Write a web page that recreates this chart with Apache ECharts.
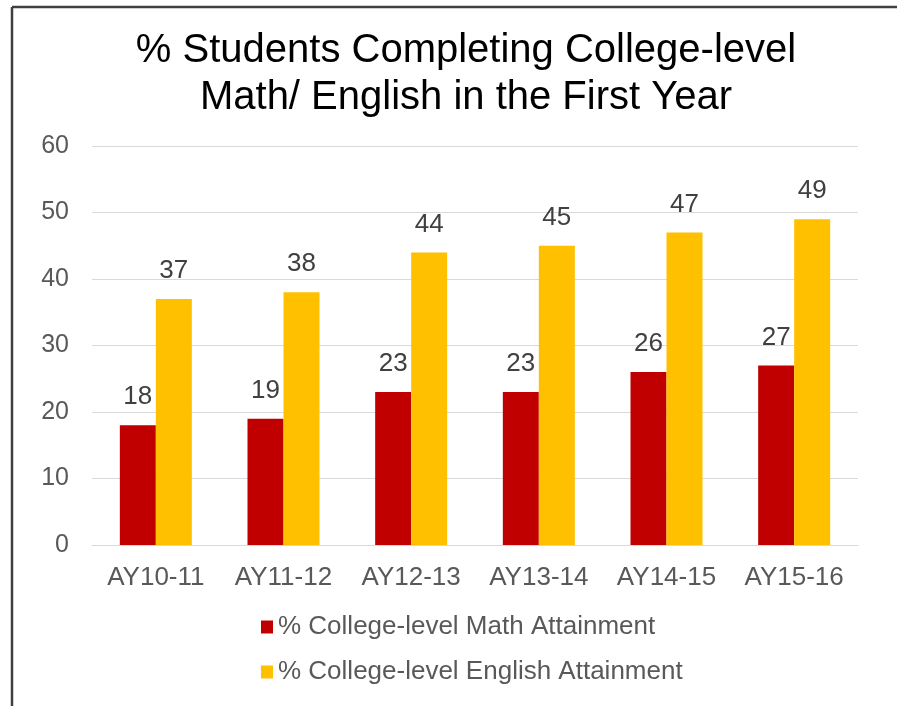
<!DOCTYPE html>
<html>
<head>
<meta charset="utf-8">
<style>
  html, body { margin: 0; padding: 0; background: #fff; }
  #chart { width: 897px; height: 706px; }
</style>
<script src="https://cdn.jsdelivr.net/npm/echarts@6/dist/echarts.min.js"></script>
</head>
<body>
<div id="chart"></div>
<script>
var years = ['AY10-11', 'AY11-12', 'AY12-13', 'AY13-14', 'AY14-15', 'AY15-16'];
var mathVals = [18, 19, 23, 23, 26, 27];
var englishVals = [37, 38, 44, 45, 47, 49];
var seriesNames = ['% College-level Math Attainment', '% College-level English Attainment'];

var font = '"Liberation Sans", Arial, sans-serif';

var labelStyle = {
	show : true,
	position : 'top',
	distance : 15,
	color : '#404040',
	fontSize : 26,
	fontFamily : font
};

var option = {
	animation : false,
	title : {
		text : '% Students Completing College-level\nMath/ English in the First Year',
		left : 461,
		textAlign : 'center',
		top : 22,
		textStyle : {
			color : '#000',
			fontSize : 40,
			fontWeight : 'normal',
			fontFamily : font,
			lineHeight : 47
		}
	},
	legend : {
		orient : 'vertical',
		left : 256,
		top : 609,
		itemWidth : 12,
		itemHeight : 13,
		itemGap : 19,
		icon : 'rect',
		textStyle : {
			color : '#595959',
			fontSize : 26,
			fontFamily : font
		},
		data : seriesNames
	},
	grid : {
		left : 92,
		right : 39,
		top : 146,
		bottom : 161
	},
	xAxis : {
		type : 'category',
		data : years,
		axisTick : { show : false },
		axisLine : { lineStyle : { color : '#d9d9d9' } },
		axisLabel : {
			interval : 0,
			color : '#595959',
			fontSize : 26,
			fontFamily : font,
			margin : 20
		}
	},
	yAxis : {
		type : 'value',
		min : 0,
		max : 60,
		interval : 10,
		axisLabel : {
			color : '#595959',
			fontSize : 25,
			fontFamily : font,
			margin : 23
		},
		splitLine : { lineStyle : { color : '#d9d9d9' } }
	},
	series : [ {
		name : seriesNames[0],
		type : 'bar',
		barWidth : 36,
		barGap : '0%',
		itemStyle : { color : '#c00000' },
		label : labelStyle,
		data : mathVals
	}, {
		name : seriesNames[1],
		type : 'bar',
		barWidth : 36,
		barGap : '0%',
		itemStyle : { color : '#ffc000' },
		label : labelStyle,
		data : englishVals
	} ],
	graphic : [ {
		type : 'line',
		shape : { x1 : 12, y1 : 7, x2 : 12, y2 : 706 },
		style : { stroke : '#404040', lineWidth : 2.5 }
	}, {
		type : 'line',
		shape : { x1 : 12, y1 : 7, x2 : 897, y2 : 7 },
		style : { stroke : '#404040', lineWidth : 2.5 }
	} ]
};

var chart = echarts.init(document.getElementById('chart'));
chart.setOption(option);
</script>
</body>
</html>
